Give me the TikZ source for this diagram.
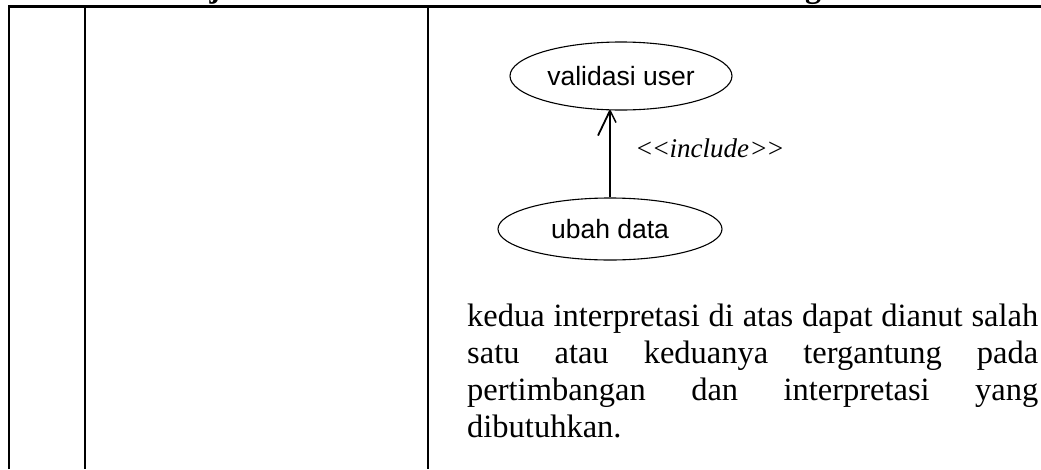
\documentclass[tikz,border=0pt]{standalone}
\usepackage{fontspec}
\setmainfont{Liberation Serif}
\newfontfamily\uisans{Liberation Sans}
\usetikzlibrary{shapes.geometric}
\begin{document}
\begin{tikzpicture}[x=1pt,y=-1pt,
  usecase/.style={ellipse,draw,line width=1.1pt,inner sep=0pt,font=\uisans\fontsize{26.5}{30}\selectfont},
  tablerule/.style={line width=2.2pt},
  conn/.style={line width=1.4pt},
  headfrag/.style={anchor=base,inner sep=0pt,font=\bfseries\fontsize{32}{36}\selectfont},
  bodyline/.style={anchor=base west,inner sep=0pt,font=\fontsize{32.5}{37}\selectfont},
  lbl/.style={anchor=west,inner sep=0pt,font=\itshape\fontsize{27}{30}\selectfont}]
\useasboundingbox (0,0) rectangle (1041,469);
\clip (0,0) rectangle (1041,469);
% header fragments (cut off at the top edge, as in the reference)
\node[headfrag] (h1) at (215,-3) {j};
\node[headfrag] (h2) at (813,-3) {g};
% table rules
\draw[tablerule] (9,469) -- (9,6.5) -- (1041,6.5);
\draw[tablerule] (85,6.5) -- (85,469);
\draw[tablerule] (428,6.5) -- (428,469);
% use cases
\node[usecase,minimum width=222pt,minimum height=68pt] (vu) at (621,76) {validasi user};
\node[usecase,minimum width=224pt,minimum height=62pt] (ud) at (610,229) {ubah data};
\draw[conn] (ud.north) -- (ud.north |- vu.south) coordinate (tip);
\draw[line width=1.8pt] (tip) -- ++(-12,25);
\draw[line width=1.4pt] (tip) -- ++(6,12);
\node[lbl] (inc) at (635,148) {<\kern-1.5pt<\kern-0.5pt include\kern0.5pt>\kern-1.5pt>};
% paragraph
\node[bodyline] (p1) at (467,326) {\makebox[571pt][s]{kedua interpretasi di atas dapat dianut salah}};
\node[bodyline] (p2) at (467,363) {\makebox[571pt][s]{satu atau keduanya tergantung pada}};
\node[bodyline] (p3) at (467,400) {\makebox[571pt][s]{pertimbangan dan interpretasi yang}};
\node[bodyline] (p4) at (467,437) {dibutuhkan.};
\end{tikzpicture}
\end{document}
